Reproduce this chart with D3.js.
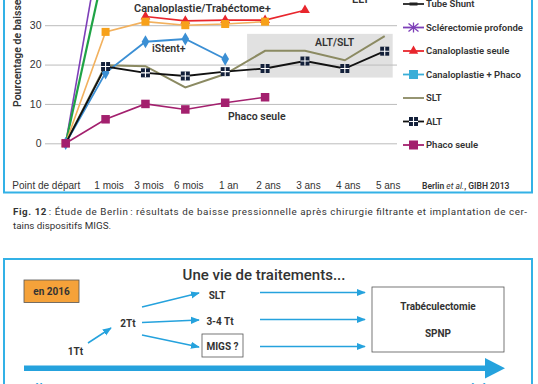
<!DOCTYPE html>
<meta charset="utf-8">
<style>
  body { margin: 0; background: #fff; }
  svg { display: block; font-family: Roboto, "Open Sans", sans-serif; }
  .lbl { fill: #333; font-weight: 600; }
  .tick text { fill: #333; font-weight: 500; }
  .grid .tick line { stroke: #bcbcbc; }
  .leg text { font-size: 9.5px; fill: #333; font-weight: 600; }
</style>
<body>
<script src="https://d3js.org/d3.v7.min.js"></script>
<script>
  // chart data (percent of IOP reduction)
  var categories = ["Point de départ", "1 mois", "3 mois", "6 mois", "1 an", "2 ans", "3 ans", "4 ans", "5 ans"];
  var yTicks = [0, 10, 20, 30];
  var sclerectomie = [0, 58];
  var elt = [0, 46];
  var canaloTrab = [0, 28.3, 30.9, 30.0, 30.3, 30.9];
  var canaloSeule = [null, null, 32.2, 31.1, 31.3, 31.3, 33.8];
  var iStent = [0, 17.9, 25.8, 26.5, 21.4];
  var slt = [0, 19.8, 19.6, 14.2, 17.6, 23.5, 23.5, 21.1, 27.2];
  var alt = [0, 19.5, 17.9, 17.1, 18.2, 19.0, 20.9, 19.0, 23.4];
  var phaco = [0, 6.1, 10.0, 8.6, 10.3, 11.7];

  var legendLabels = ["Tube Shunt", "Sclérectomie profonde", "Canaloplastie seule", "Canaloplastie + Phaco", "SLT", "ALT", "Phaco seule"];
  var legendColors = ["#222", "#7d3fb8", "#e8262d", "#3aaed8", "#8b8a62", "#111", "#a3206e"];
  var legendSymbols = ["dash", "star", "triangle", "square", "none", "alt", "square"];

  var width = 538, height = 384;
  var textColor = "#333", boxBlue = "#33b1e6", arrowBlue = "#25a2dd";

  var svg = d3.select("body").append("svg")
    .attr("width", width)
    .attr("height", height);

  var x = d3.scalePoint().domain(categories).range([65.7, 384.7]);
  var y = d3.scaleLinear().domain([0, 30]).range([143.3, 25.2]);

  // chart frame (top is cropped)
  svg.append("path")
    .attr("d", "M4,-5 V192.5 H532 V-5")
    .attr("fill", "none")
    .attr("stroke", boxBlue)
    .attr("stroke-width", 2);

  // shaded ALT/SLT zone
  svg.append("rect")
    .attr("x", x("2 ans") - 18).attr("y", y(27.8))
    .attr("width", x("5 ans") - x("2 ans") + 26)
    .attr("height", y(16.7) - y(27.8))
    .attr("fill", "#e1e1e1");

  // y grid + labels
  var yAxis = svg.append("g")
    .attr("class", "grid")
    .attr("transform", "translate(45,0)")
    .call(d3.axisLeft(y).tickValues(yTicks).tickSize(-352).tickPadding(3.5));
  yAxis.select(".domain").remove();
  yAxis.selectAll("text").attr("font-size", 10.5).attr("font-family", null).attr("font-weight", 600);

  // x labels
  var xAxis = svg.append("g")
    .attr("transform", "translate(3,182)")
    .call(d3.axisBottom(x).tickSize(0).tickPadding(0));
  xAxis.select(".domain").remove();
  xAxis.selectAll("text").attr("font-size", 10).attr("font-family", null);
  xAxis.selectAll("text").filter(function(d) { return d === categories[0]; })
    .attr("text-anchor", "end").attr("dx", 11);

  svg.append("text")
    .attr("class", "lbl")
    .attr("transform", "translate(21,107) rotate(-90)")
    .attr("font-size", 10.5)
    .text("Pourcentage de baisse de la PIO");

  svg.append("text")
    .attr("x", 422).attr("y", 189)
    .attr("font-size", 8.5).attr("fill", textColor).attr("font-weight", 600)
    .html("Berlin <tspan font-style='italic' font-weight='400'>et al.</tspan>, GIBH 2013");

  var line = d3.line()
    .defined(function(d) { return d != null; })
    .x(function(d, i) { return x(categories[i]); })
    .y(function(d) { return y(d); });

  function drawLine(data, color, w) {
    svg.append("path")
      .datum(data)
      .attr("d", line)
      .attr("fill", "none")
      .attr("stroke", color)
      .attr("stroke-width", w || 1.6);
  }

  function pts(data) {
    return data.map(function(v, i) { return {v: v, c: categories[i]}; })
      .filter(function(d) { return d.v != null; });
  }

  function drawSquares(data, color, s) {
    svg.append("g").selectAll("rect")
      .data(pts(data)).enter().append("rect")
      .attr("x", function(d) { return x(d.c) - s / 2; })
      .attr("y", function(d) { return y(d.v) - s / 2; })
      .attr("width", s).attr("height", s)
      .attr("fill", color);
  }

  function drawSymbols(data, color, type, size) {
    svg.append("g").selectAll("path")
      .data(pts(data)).enter().append("path")
      .attr("transform", function(d) { return "translate(" + x(d.c) + "," + y(d.v) + ")"; })
      .attr("d", d3.symbol().type(type).size(size))
      .attr("fill", color);
  }

  function altMarker(g, s) {
    g.append("rect").attr("x", -s / 2).attr("y", -s / 2).attr("width", s).attr("height", s).attr("fill", "#13203a");
    g.append("path").attr("d", "M" + (-s / 2) + ",0H" + (s / 2) + "M0," + (-s / 2) + "V" + (s / 2))
      .attr("stroke", "#fff").attr("stroke-width", 1.1);
  }

  drawLine(sclerectomie, "#7d3fb8", 1.6);
  drawLine(elt, "#1fa345", 2.2);
  drawLine(slt, "#8b8a62", 2);
  drawLine(canaloTrab, "#f2b15e", 1.6);
  drawLine(canaloSeule, "#e8262d", 1.6);
  drawLine(iStent, "#3b8fd4", 1.8);
  drawLine(alt, "#111", 1.8);
  drawLine(phaco, "#a3206e", 1.6);

  drawSymbols(canaloSeule, "#e8262d", d3.symbolTriangle, 42);
  drawSquares(canaloTrab, "#f7a11a", 8);
  drawSymbols(iStent, "#3b8fd4", d3.symbolDiamond, 50);
  svg.append("g").selectAll("g")
    .data(pts(alt).slice(1)).enter().append("g")
    .attr("transform", function(d) { return "translate(" + x(d.c) + "," + y(d.v) + ")"; })
    .each(function() { altMarker(d3.select(this), 9); });
  drawSquares(phaco, "#a3206e", 8.5);

  // in-chart labels
  function label(t, lx, ly, fs, col) {
    svg.append("text").attr("class", "lbl").attr("x", lx).attr("y", ly)
      .attr("font-size", fs).attr("fill", col || textColor).text(t);
  }
  label("Canaloplastie/Trabéctome+", 134, 11.5, 11);
  label("iStent+", 152, 52, 10.5);
  label("ALT/SLT", 315, 46, 10.5);
  label("Phaco seule", 228, 120, 10.5);
  label("ELT", 352, 2.5, 11, "#1fa345");

  // legend
  var legend = svg.selectAll(".leg")
    .data(legendLabels).enter().append("g")
    .attr("class", "leg")
    .attr("transform", function(d, i) { return "translate(403," + (4 + i * 23.5) + ")"; });

  legend.append("line")
    .attr("x1", 0).attr("x2", 21)
    .attr("stroke", function(d, i) { return legendColors[i]; })
    .attr("stroke-width", 1.8);

  legend.each(function(d, i) {
    var g = d3.select(this).append("g").attr("transform", "translate(10.5,0)");
    var c = legendColors[i];
    switch (legendSymbols[i]) {
      case "dash": g.append("rect").attr("x", -4).attr("y", -1.5).attr("width", 8).attr("height", 3).attr("fill", c); break;
      case "star": g.append("path").attr("d", "M-5,-4L5,4M-5,4L5,-4M0,-5V5").attr("stroke", c).attr("stroke-width", 1.3); break;
      case "triangle": g.append("path").attr("d", d3.symbol().type(d3.symbolTriangle).size(38)).attr("fill", c); break;
      case "square": g.append("rect").attr("x", -4.5).attr("y", -4.5).attr("width", 9).attr("height", 9).attr("fill", c); break;
      case "alt": altMarker(g, 9); break;
    }
  });

  legend.append("text")
    .attr("x", 23).attr("dy", "0.35em")
    .text(function(d) { return d; });

  // caption
  var cap = svg.append("text")
    .attr("x", 13).attr("y", 215)
    .attr("font-size", 9.8).attr("fill", textColor)
    .attr("textLength", 514).attr("lengthAdjust", "spacing");
  cap.append("tspan").attr("font-weight", 700).text("Fig. 12");
  cap.append("tspan").text("\u202f: Étude de Berlin\u202f: résultats de baisse pressionnelle après chirurgie filtrante et implantation de cer-");
  svg.append("text")
    .attr("x", 13).attr("y", 228.5)
    .attr("font-size", 9.8).attr("fill", textColor)
    .text("tains dispositifs MIGS.");

  // second panel: treatment timeline
  svg.append("path")
    .attr("d", "M4,390 V259 H532 V390")
    .attr("fill", "none").attr("stroke", boxBlue).attr("stroke-width", 2);

  svg.append("text")
    .attr("x", 264).attr("y", 280)
    .attr("text-anchor", "middle").attr("font-size", 15).attr("fill", textColor).attr("font-weight", 500)
    .text("Une vie de traitements...");

  svg.append("rect")
    .attr("x", 24).attr("y", 280).attr("width", 55).attr("height", 22.5)
    .attr("fill", "#f5a23a").attr("stroke", "#555").attr("stroke-width", 0.8);
  svg.append("text").attr("x", 51.5).attr("y", 295).attr("text-anchor", "middle")
    .attr("font-size", 10).attr("font-weight", 700).attr("fill", textColor).text("en 2016");

  var defs = svg.append("defs");
  defs.append("marker")
    .attr("id", "ah").attr("viewBox", "0 0 10 10").attr("refX", 9).attr("refY", 5)
    .attr("markerWidth", 6).attr("markerHeight", 6).attr("orient", "auto")
    .append("path").attr("d", "M0,1L10,5L0,9Z").attr("fill", arrowBlue);

  var arrows = [
    [88, 343, 111, 328],
    [142, 307, 199, 293],
    [142, 322.5, 199, 320],
    [142, 335, 199, 347],
    [260, 292.5, 365, 292.5],
    [260, 319.5, 365, 319.5],
    [260, 346.5, 365, 346.5]
  ];
  svg.append("g").selectAll("line")
    .data(arrows).enter().append("line")
    .attr("x1", function(d) { return d[0]; }).attr("y1", function(d) { return d[1]; })
    .attr("x2", function(d) { return d[2]; }).attr("y2", function(d) { return d[3]; })
    .attr("stroke", arrowBlue).attr("stroke-width", 1.5)
    .attr("marker-end", "url(#ah)");

  function node(t, nx, ny) {
    svg.append("text").attr("x", nx).attr("y", ny).attr("text-anchor", "middle")
      .attr("font-size", 10).attr("font-weight", 700).attr("fill", textColor).text(t);
  }
  node("1Tt", 75.5, 355);
  node("2Tt", 128, 327);
  node("SLT", 217, 299);
  node("3-4 Tt", 220, 325);
  svg.append("rect").attr("x", 202).attr("y", 334).attr("width", 41).attr("height", 23)
    .attr("fill", "none").attr("stroke", "#555").attr("stroke-width", 0.8);
  node("MIGS ?", 222.5, 349.5);

  svg.append("rect").attr("x", 372).attr("y", 287).attr("width", 132).attr("height", 65)
    .attr("fill", "none").attr("stroke", "#555").attr("stroke-width", 0.8);
  node("Trabéculectomie", 438, 310);
  node("SPNP", 438, 337);

  // big timeline arrow
  svg.append("rect").attr("x", 24).attr("y", 365.5).attr("width", 462).attr("height", 5.5).attr("fill", arrowBlue);
  svg.append("path").attr("d", "M485,358L505,368.2L485,378.5Z").attr("fill", arrowBlue);

  svg.append("text").attr("x", 24).attr("y", 392.5).attr("font-size", 13).attr("fill", arrowBlue).attr("font-weight", 500).text("Débutant");
  svg.append("text").attr("x", 500).attr("y", 392.5).attr("text-anchor", "end").attr("font-size", 13).attr("fill", arrowBlue).attr("font-weight", 500).text("Sévère");
</script>
</body>
